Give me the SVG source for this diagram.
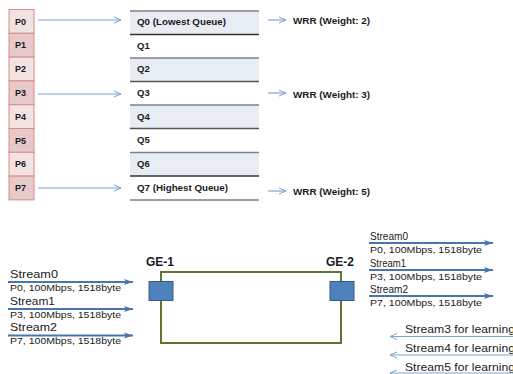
<svg xmlns="http://www.w3.org/2000/svg" width="513" height="374" viewBox="0 0 513 374">
<defs>
<style>
.t{font-family:"Liberation Sans",Arial,sans-serif;fill:#1a1a1a}
.pl{font-size:9px;font-weight:bold}
.ql{font-size:9.5px;font-weight:bold}
.sl{font-size:10.5px}
.sd{font-size:9.5px}
.ge{font-size:12px;font-weight:bold}
.pa{fill:#f2e2e2;stroke:#d98a8a;stroke-width:1}
.pb{fill:#e6c9c9;stroke:#d98a8a;stroke-width:1}
.qs{fill:#e8edf4}
.thin{stroke:#7fa3d0;stroke-width:1.2;fill:none}
.thick{stroke:#4a74ad;stroke-width:2;fill:none}
.port{fill:#4f81bd;stroke:#385d8a;stroke-width:1}
</style>
<marker id="oa" markerWidth="10" markerHeight="8" refX="8" refY="4" orient="auto" markerUnits="userSpaceOnUse">
<path d="M1,1 L8,4 L1,7" fill="none" stroke="#7fa3d0" stroke-width="1"/>
</marker>
<marker id="fa" markerWidth="10" markerHeight="8" refX="9" refY="4" orient="auto" markerUnits="userSpaceOnUse">
<path d="M0,1 L9,4 L0,7 L2,4 Z" fill="#4a74ad"/>
</marker>
</defs>

<g id="ports">
<rect class="pa" x="9" y="9.5" width="25" height="23.8"/>
<rect class="pb" x="9" y="33.3" width="25" height="23.8"/>
<rect class="pa" x="9" y="57.1" width="25" height="23.8"/>
<rect class="pb" x="9" y="80.9" width="25" height="23.8"/>
<rect class="pa" x="9" y="104.7" width="25" height="23.8"/>
<rect class="pb" x="9" y="128.5" width="25" height="23.8"/>
<rect class="pa" x="9" y="152.3" width="25" height="23.8"/>
<rect class="pb" x="9" y="176.1" width="25" height="23.8"/>
<text class="t pl" x="15" y="24.5">P0</text>
<text class="t pl" x="15" y="48.3">P1</text>
<text class="t pl" x="15" y="72.1">P2</text>
<text class="t pl" x="15" y="95.9">P3</text>
<text class="t pl" x="15" y="119.7">P4</text>
<text class="t pl" x="15" y="143.5">P5</text>
<text class="t pl" x="15" y="167.3">P6</text>
<text class="t pl" x="15" y="191.1">P7</text>
</g>

<g id="queues">
<rect class="qs" x="130" y="11" width="129" height="23.4"/>
<rect class="qs" x="130" y="58" width="129" height="23.4"/>
<rect class="qs" x="130" y="105" width="129" height="23.4"/>
<rect class="qs" x="130" y="152.5" width="129" height="23.4"/>
<g stroke-width="1.5">
<line x1="130" y1="11" x2="259" y2="11" stroke="#808080"/>
<line x1="130" y1="34.4" x2="259" y2="34.4" stroke="#333"/>
<line x1="130" y1="58" x2="259" y2="58" stroke="#808080"/>
<line x1="130" y1="81.6" x2="259" y2="81.6" stroke="#555"/>
<line x1="130" y1="105" x2="259" y2="105" stroke="#808080"/>
<line x1="130" y1="128.6" x2="259" y2="128.6" stroke="#555"/>
<line x1="130" y1="152.5" x2="259" y2="152.5" stroke="#808080"/>
<line x1="130" y1="176" x2="259" y2="176" stroke="#333"/>
<line x1="130" y1="200" x2="259" y2="200" stroke="#808080"/>
</g>
<text class="t ql" x="137" y="24.5" textLength="89" lengthAdjust="spacingAndGlyphs">Q0 (Lowest Queue)</text>
<text class="t ql" x="137" y="48.5">Q1</text>
<text class="t ql" x="137" y="72">Q2</text>
<text class="t ql" x="137" y="96">Q3</text>
<text class="t ql" x="137" y="119.5">Q4</text>
<text class="t ql" x="137" y="143">Q5</text>
<text class="t ql" x="137" y="167">Q6</text>
<text class="t ql" x="137" y="190.5" textLength="91" lengthAdjust="spacingAndGlyphs">Q7 (Highest Queue)</text>
</g>

<g id="wrr">
<text class="t ql" x="293" y="23.5" textLength="77" lengthAdjust="spacingAndGlyphs">WRR (Weight: 2)</text>
<text class="t ql" x="293" y="97.5" textLength="77" lengthAdjust="spacingAndGlyphs">WRR (Weight: 3)</text>
<text class="t ql" x="293" y="195" textLength="77" lengthAdjust="spacingAndGlyphs">WRR (Weight: 5)</text>
</g>

<g id="switch">
<rect x="161" y="272" width="180" height="71" fill="none" stroke="#5f7530" stroke-width="2"/>
</g>
<g id="ge1">
<text class="t ge" x="146" y="266">GE-1</text>
<rect class="port" x="149" y="281.5" width="24" height="19"/>
</g>
<g id="ge2">
<text class="t ge" x="326" y="266">GE-2</text>
<rect class="port" x="330" y="281.5" width="24" height="19"/>
</g>

<g id="in-streams">
<text class="t sl" x="10" y="278" textLength="48" lengthAdjust="spacingAndGlyphs">Stream0</text>
<text class="t sd" x="10" y="291" textLength="111" lengthAdjust="spacingAndGlyphs">P0, 100Mbps, 1518byte</text>
<text class="t sl" x="10" y="305" textLength="45" lengthAdjust="spacingAndGlyphs">Stream1</text>
<text class="t sd" x="10" y="317.5" textLength="111" lengthAdjust="spacingAndGlyphs">P3, 100Mbps, 1518byte</text>
<text class="t sl" x="10" y="331" textLength="47" lengthAdjust="spacingAndGlyphs">Stream2</text>
<text class="t sd" x="10" y="344" textLength="111" lengthAdjust="spacingAndGlyphs">P7, 100Mbps, 1518byte</text>
</g>

<g id="out-streams">
<text class="t sl" x="370" y="240" textLength="38" lengthAdjust="spacingAndGlyphs">Stream0</text>
<text class="t sd" x="370" y="253" textLength="112" lengthAdjust="spacingAndGlyphs">P0, 100Mbps, 1518byte</text>
<text class="t sl" x="370" y="267" textLength="36" lengthAdjust="spacingAndGlyphs">Stream1</text>
<text class="t sd" x="370" y="279.5" textLength="112" lengthAdjust="spacingAndGlyphs">P3, 100Mbps, 1518byte</text>
<text class="t sl" x="370" y="293" textLength="38" lengthAdjust="spacingAndGlyphs">Stream2</text>
<text class="t sd" x="370" y="306" textLength="112" lengthAdjust="spacingAndGlyphs">P7, 100Mbps, 1518byte</text>
</g>

<g id="learning">
<text class="t sl" x="405" y="333" textLength="110" lengthAdjust="spacingAndGlyphs">Stream3  for learning</text>
<text class="t sl" x="405" y="352" textLength="110" lengthAdjust="spacingAndGlyphs">Stream4  for learning</text>
<text class="t sl" x="405" y="370.5" textLength="110" lengthAdjust="spacingAndGlyphs">Stream5  for learning</text>
</g>

<g id="connectors">
<line class="thin" x1="38" y1="20" x2="121" y2="20" marker-end="url(#oa)"/>
<line class="thin" x1="38" y1="94" x2="121" y2="94" marker-end="url(#oa)"/>
<line class="thin" x1="38" y1="188" x2="121" y2="188" marker-end="url(#oa)"/>
<line class="thin" x1="268" y1="20" x2="286" y2="20" marker-end="url(#oa)"/>
<line class="thin" x1="268" y1="93" x2="286" y2="93" marker-end="url(#oa)"/>
<line class="thin" x1="268" y1="191" x2="286" y2="191" marker-end="url(#oa)"/>
<line class="thick" x1="8" y1="282" x2="133" y2="282" marker-end="url(#fa)"/>
<line class="thick" x1="8" y1="309" x2="133" y2="309" marker-end="url(#fa)"/>
<line class="thick" x1="8" y1="335.5" x2="133" y2="335.5" marker-end="url(#fa)"/>
<line class="thick" x1="369" y1="243" x2="493" y2="243" marker-end="url(#fa)"/>
<line class="thick" x1="369" y1="270" x2="493" y2="270" marker-end="url(#fa)"/>
<line class="thick" x1="369" y1="296" x2="493" y2="296" marker-end="url(#fa)"/>
<line class="thin" x1="513" y1="336.5" x2="390" y2="336.5" marker-end="url(#oa)"/>
<line class="thin" x1="513" y1="355" x2="390" y2="355" marker-end="url(#oa)"/>
<line class="thin" x1="513" y1="373" x2="390" y2="373" marker-end="url(#oa)"/>
</g>
</svg>
